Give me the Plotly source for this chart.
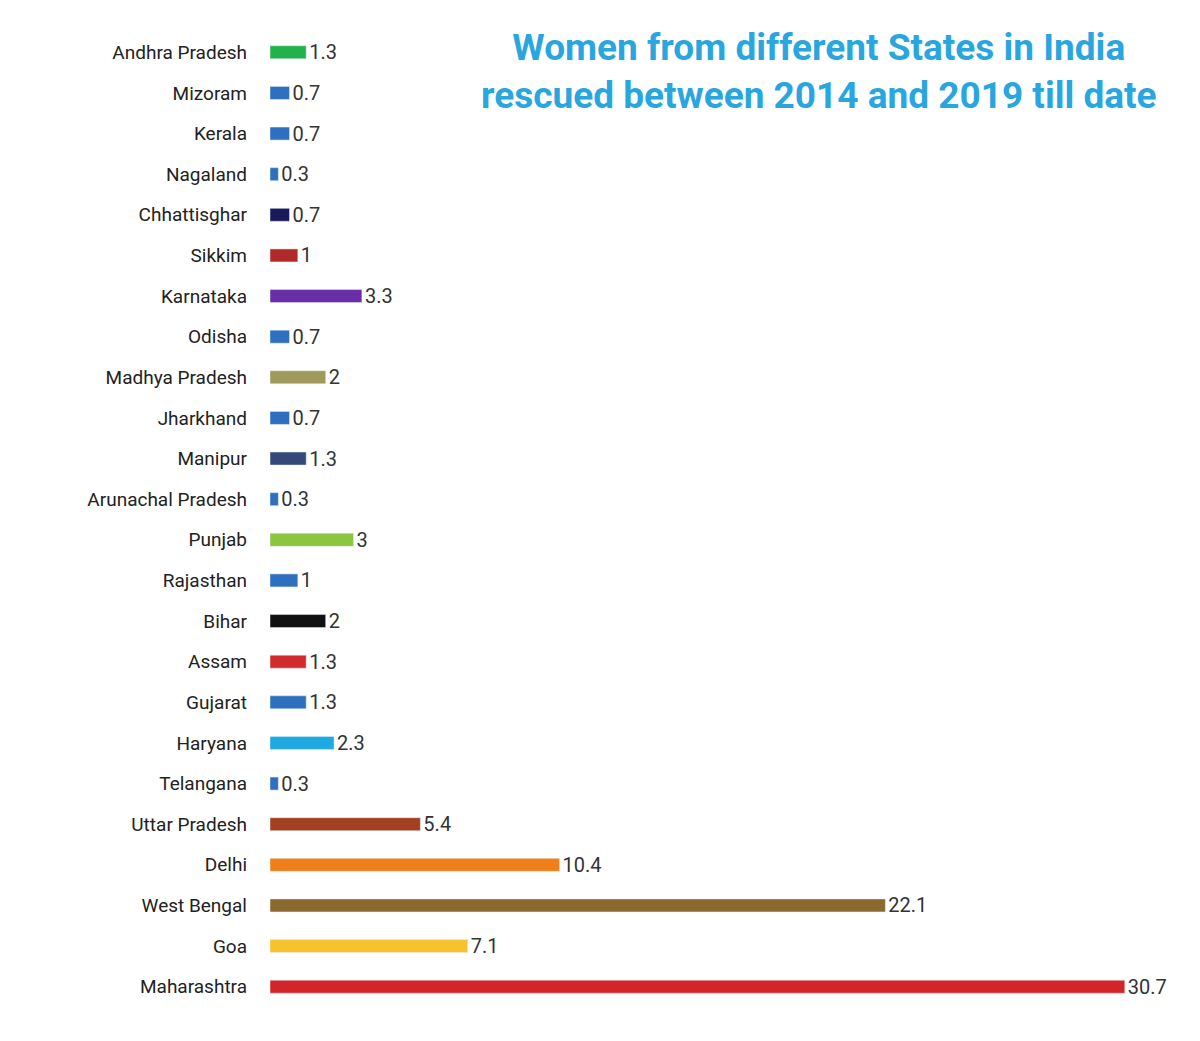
import plotly.graph_objects as go

states = ["Andhra Pradesh", "Mizoram", "Kerala", "Nagaland", "Chhattisghar", "Sikkim",
          "Karnataka", "Odisha", "Madhya Pradesh", "Jharkhand", "Manipur",
          "Arunachal Pradesh", "Punjab", "Rajasthan", "Bihar", "Assam", "Gujarat",
          "Haryana", "Telangana", "Uttar Pradesh", "Delhi", "West Bengal", "Goa",
          "Maharashtra"]
values = [1.3, 0.7, 0.7, 0.3, 0.7, 1, 3.3, 0.7, 2, 0.7, 1.3, 0.3, 3, 1, 2, 1.3, 1.3,
          2.3, 0.3, 5.4, 10.4, 22.1, 7.1, 30.7]
labels = ["1.3", "0.7", "0.7", "0.3", "0.7", "1", "3.3", "0.7", "2", "0.7", "1.3", "0.3",
          "3", "1", "2", "1.3", "1.3", "2.3", "0.3", "5.4", "10.4", "22.1", "7.1", "30.7"]
blue = "#2f6fc0"
colors = ["#22b24c", blue, blue, blue, "#1a1a5a", "#b02a2a", "#6a2fa8", blue, "#a09a5a",
          blue, "#34497a", blue, "#8cc63f", blue, "#111111", "#d22b2b", blue, "#1ea9e1",
          blue, "#a3401e", "#f07f1a", "#8b6a30", "#f7c22b", "#d3242a"]

fig = go.Figure(go.Bar(
    x=values, y=states, orientation="h", marker=dict(color=colors),
    text=labels, textposition="outside", cliponaxis=False,
    textfont=dict(size=20, color="#333333", family="Liberation Sans Narrow, Roboto"),
))

fig.update_layout(
    width=1200, height=1041,
    margin=dict(l=262, r=8, t=24, b=42),
    plot_bgcolor="white", paper_bgcolor="white",
    showlegend=False, bargap=0.68,
    uniformtext=dict(minsize=20, mode="show"),
    font=dict(family="Liberation Sans Narrow, Roboto", size=19, color="#222222"),
    xaxis=dict(range=[0, 33.4], visible=False, fixedrange=True),
    yaxis=dict(autorange="reversed", showgrid=False, zeroline=False, ticks="",
               ticklabelstandoff=22, tickfont=dict(size=19, color="#222222")),
    annotations=[dict(
        text="<b>Women from different States in India<br>rescued between 2014 and 2019 till date</b>",
        xref="paper", yref="paper", x=0.59, y=1.008, xanchor="center", yanchor="top",
        showarrow=False, align="center",
        font=dict(size=37, color="#2aa6df", family="Liberation Sans Narrow, Roboto"))],
    shapes=[dict(type="rect", xref="paper", yref="paper",
                 x0=-262/930 - 0.006, x1=1 + 8/930 - 0.004, y0=-42/975 - 0.004,
                 y1=1 + 24/975 + 0.006,
                 line=dict(color="#aaaaaa", width=4))],
)

fig.write_html("out.html")
